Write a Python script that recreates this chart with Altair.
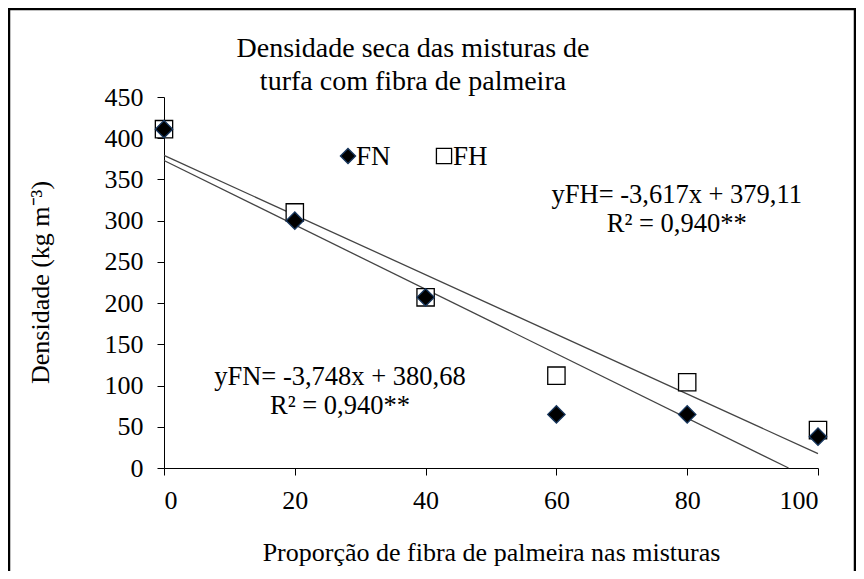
import altair as alt
import pandas as pd

# Data
proportion = [0, 20, 40, 60, 80, 100]
fn_density = [411, 300, 207, 65, 65, 38]
fh_density = [411, 310, 207, 112, 104, 46]

# fitted lines (endpoints as drawn)
fh_line_x = [0, 100]
fh_line_y = [379.11, 17.4]
fn_line_x = [0, 95.5]
fn_line_y = [373, 0]

series_names = ["FN", "FH"]
title_lines = ["Densidade seca das misturas de", "turfa com fibra de palmeira"]
eq_labels = [
    "yFH= -3,617x + 379,11\nR² = 0,940**",
    "yFN= -3,748x + 380,68\nR² = 0,940**",
]

FONT = "Liberation Serif"

pts = pd.DataFrame(
    {
        "x": proportion * 2,
        "y": fn_density + fh_density,
        "serie": ["FN"] * 6 + ["FH"] * 6,
        "order": [2] * 6 + [1] * 6,
    }
)
lines = pd.DataFrame(
    {
        "x": fh_line_x + fn_line_x,
        "y": fh_line_y + fn_line_y,
        "fit": ["FH", "FH", "FN", "FN"],
    }
)
eqs = pd.DataFrame({"x": [78.4, 26.9], "y": [331, 110], "label": eq_labels})

W, H = 654, 371
xs = alt.Scale(domain=[0, 100], nice=False, zero=False)
ys = alt.Scale(domain=[0, 450], nice=False)
shape_scale = alt.Scale(domain=series_names, range=["diamond", "square"])
fill_scale = alt.Scale(domain=series_names, range=["black", "white"])
stroke_scale = alt.Scale(domain=series_names, range=["#17365d", "black"])

xenc = alt.X(
    "x:Q",
    scale=xs,
    axis=alt.Axis(
        values=proportion,
        title="Proporção de fibra de palmeira nas misturas",
        titleY=84,
        titleBaseline="middle",
    ),
)
yenc = alt.Y(
    "y:Q",
    scale=ys,
    axis=alt.Axis(
        values=list(range(0, 451, 50)),
        title="Densidade (kg m⁻³)",
        titleX=-124,
        titleY=185,
        titleAngle=-90,
        titleBaseline="middle",
    ),
)

line_layer = (
    alt.Chart(lines)
    .mark_line(color="#444444", strokeWidth=1.3)
    .encode(x=xenc, y=yenc, detail="fit:N")
)

point_layer = (
    alt.Chart(pts)
    .mark_point(filled=False, opacity=1, strokeWidth=1.3, size=300)
    .encode(
        x=alt.X("x:Q", scale=xs),
        y=alt.Y("y:Q", scale=ys),
        shape=alt.Shape("serie:N", scale=shape_scale, legend=None),
        fill=alt.Fill("serie:N", scale=fill_scale, legend=None),
        stroke=alt.Stroke("serie:N", scale=stroke_scale, legend=None),
        order=alt.Order("order:Q"),
    )
)


def legend_entry(name, sx, tx):
    df = pd.DataFrame({"serie": [name]})
    sym = (
        alt.Chart(df)
        .mark_point(filled=False, opacity=1, strokeWidth=1.3, size=230)
        .encode(
            x=alt.value(sx), y=alt.value(59),
            shape=alt.Shape("serie:N", scale=shape_scale, legend=None),
            fill=alt.Fill("serie:N", scale=fill_scale, legend=None),
            stroke=alt.Stroke("serie:N", scale=stroke_scale, legend=None),
        )
    )
    txt = (
        alt.Chart(df)
        .mark_text(font=FONT, fontSize=27, align="left", baseline="middle", color="black")
        .encode(x=alt.value(tx), y=alt.value(60), text="serie:N")
    )
    return sym, txt


fn_sym, fn_txt = legend_entry(series_names[0], 184, 192)
fh_sym, fh_txt = legend_entry(series_names[1], 280, 289)

text_layer = (
    alt.Chart(eqs)
    .mark_text(
        font=FONT, fontSize=26.5, lineHeight=29, lineBreak="\n",
        align="center", baseline="middle", color="black",
    )
    .encode(x=alt.X("x:Q", scale=xs), y=alt.Y("y:Q", scale=ys), text="label:N")
)

title_layer = (
    alt.Chart(pd.DataFrame({"t": ["\n".join(title_lines)]}))
    .mark_text(
        font=FONT, fontSize=28, lineHeight=33, lineBreak="\n",
        align="center", baseline="middle", color="black",
    )
    .encode(x=alt.value(249), y=alt.value(-48), text="t:N")
)

frame = (
    alt.Chart(pd.DataFrame({"a": [0]}))
    .mark_rect(fill=None, stroke="black", strokeWidth=2.5)
    .encode(
        x=alt.value(-155),
        x2=alt.value(W + 37),
        y=alt.value(-88),
        y2=alt.value(H + 200),
    )
)

chart = (
    alt.layer(
        frame, line_layer, point_layer, text_layer, title_layer,
        fn_sym, fh_sym, fn_txt, fh_txt,
    )
    .properties(
        width=W,
        height=H,
        autosize=alt.AutoSizeParams(type="none"),
        padding={"left": 156, "top": 89, "right": 38, "bottom": 103},
    )
    .configure_view(stroke=None)
    .configure_axis(
        labelFont=FONT,
        labelFontSize=26,
        labelColor="black",
        titleFont=FONT,
        titleFontSize=26,
        titleFontWeight="normal",
        titleColor="black",
        domainColor="black",
        tickColor="black",
        tickSize=7,
        grid=False,
    )
    .configure_axisY(labelPadding=14)
    .configure_axisX(labelPadding=12)
)

chart.save("out.html", embed_options={"renderer": "svg", "actions": False})
